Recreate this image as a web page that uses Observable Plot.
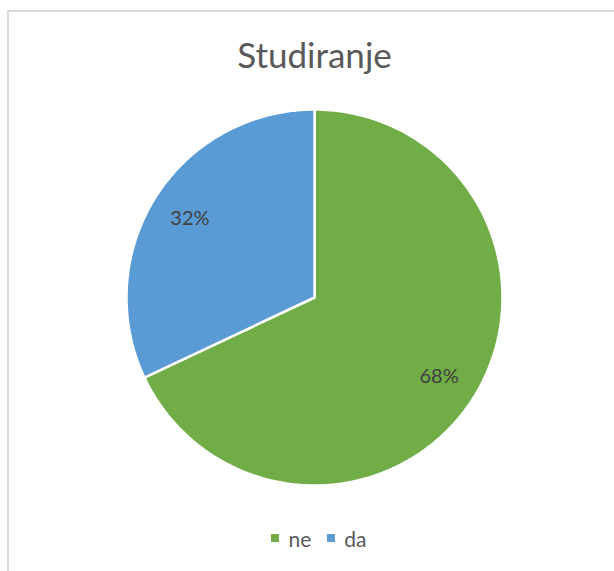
<!DOCTYPE html>
<html>
<head>
<meta charset="utf-8">
<script src="https://cdn.jsdelivr.net/npm/d3@7"></script>
<script src="https://cdn.jsdelivr.net/npm/@observablehq/plot@0.6"></script>
<style>
  html, body { margin: 0; padding: 0; background: #fff; width: 614px; height: 571px; overflow: hidden; }
  #frame { position: absolute; left: 7px; top: 10px; width: 640px; height: 600px; border: 2px solid #d9d9d9; box-sizing: border-box; }
  #title { position: absolute; left: 0; top: 34px; width: 629px; text-align: center; font-family: Lato, "Open Sans", sans-serif; font-size: 35px; color: #595959; line-height: 40px; }
  #chart { position: absolute; left: 0; top: 97px; }
  #legend { position: absolute; left: 0; top: 527px; width: 638px; text-align: center; font-family: Lato, "Open Sans", sans-serif; font-size: 21px; color: #595959; line-height: 24px; white-space: nowrap; }
  #legend .item { display: inline-block; margin: 0 8px; }
  #legend .sw { display: inline-block; width: 8px; height: 8px; margin-right: 9px; vertical-align: 5px; }
</style>
</head>
<body>
<div id="frame"></div>
<div id="title">Studiranje</div>
<div id="chart"></div>
<div id="legend"></div>
<script>
const categories = ["ne", "da"];
const values = [68, 32];
const labels = ["68%", "32%"];
const colors = ["#70ad47", "#5b9bd5"];

const pie = d3.pie().sort(null).value(d => d)(values);

// Build polygon points per slice (angles from d3.pie, clockwise from top)
const slicePts = [];
pie.forEach((p, i) => {
  slicePts.push({cat: categories[i], x: 0, y: 0});
  const n = 200;
  for (let k = 0; k <= n; k++) {
    const a = p.startAngle + (p.endAngle - p.startAngle) * k / n;
    slicePts.push({cat: categories[i], x: Math.sin(a), y: Math.cos(a)});
  }
  slicePts.push({cat: categories[i], x: 0, y: 0});
});

const labelPts = pie.map((p, i) => {
  const a = (p.startAngle + p.endAngle) / 2;
  const rr = 0.785;
  return {cat: categories[i], label: labels[i], x: rr * Math.sin(a), y: rr * Math.cos(a)};
});

const R = 188, cx = 314, cy = 200;
const chart = Plot.plot({
  width: 614,
  height: 400,
  margin: 0,
  x: {domain: [-1, 1], range: [cx - R, cx + R], axis: null},
  y: {domain: [-1, 1], range: [cy + R, cy - R], axis: null},
  color: {domain: categories, range: colors},
  style: {background: "transparent", overflow: "visible"},
  marks: [
    Plot.line(slicePts, {x: "x", y: "y", z: "cat", fill: "cat", stroke: "white", strokeWidth: 2.5, strokeLinejoin: "miter", curve: "linear"}),
    Plot.text(labelPts, {x: "x", y: "y", text: "label", fill: "#404040", fontSize: 20, fontFamily: "Lato, 'Open Sans', sans-serif"})
  ]
});
document.getElementById("chart").appendChild(chart);

const legend = document.getElementById("legend");
categories.forEach((c, i) => {
  const item = document.createElement("span");
  item.className = "item";
  const sw = document.createElement("span");
  sw.className = "sw";
  sw.style.background = colors[i];
  item.appendChild(sw);
  item.appendChild(document.createTextNode(c));
  legend.appendChild(item);
});
</script>
</body>
</html>
